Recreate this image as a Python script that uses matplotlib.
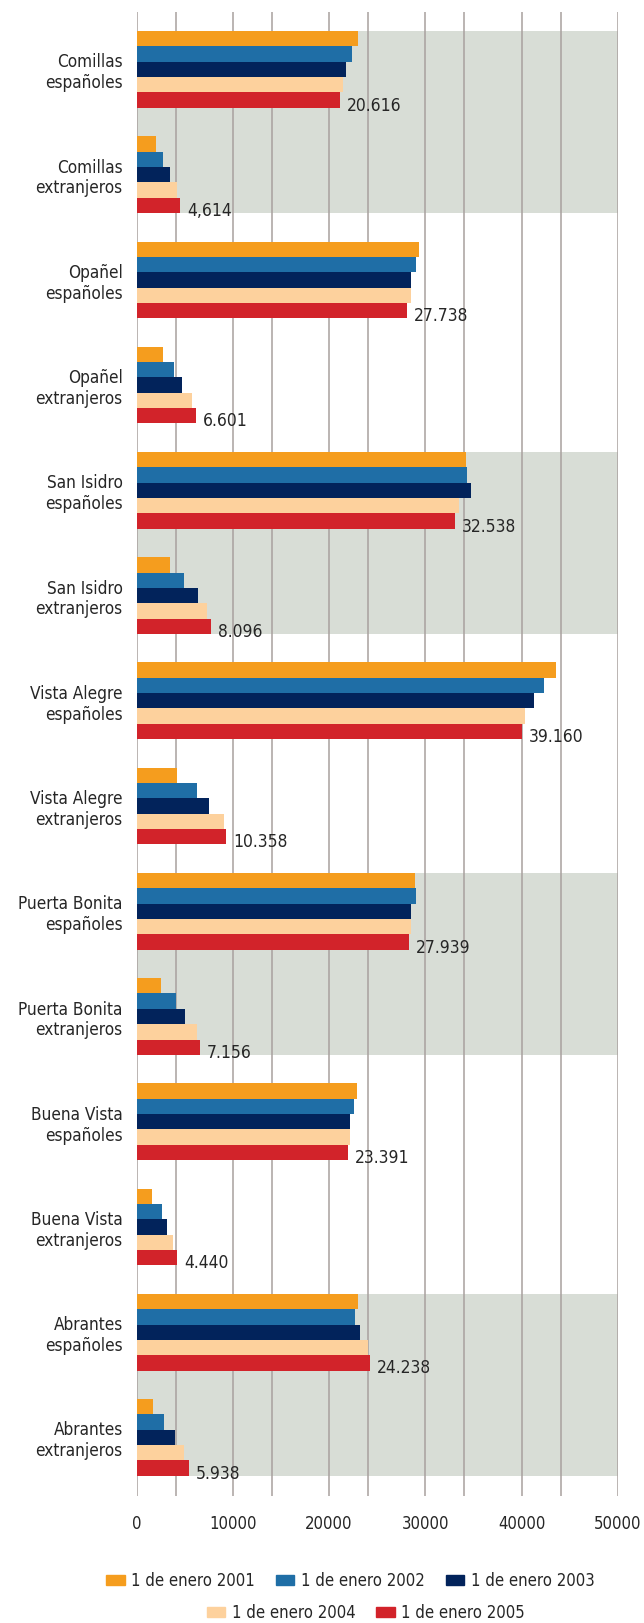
import numpy as np
import matplotlib
matplotlib.use("Agg")
import matplotlib.pyplot as plt
from matplotlib.patches import Patch

# data
categories = ["Comillas\nespañoles", "Comillas\nextranjeros",
              "Opañel\nespañoles", "Opañel\nextranjeros",
              "San Isidro\nespañoles", "San Isidro\nextranjeros",
              "Vista Alegre\nespañoles", "Vista Alegre\nextranjeros",
              "Puerta Bonita\nespañoles", "Puerta Bonita\nextranjeros",
              "Buena Vista\nespañoles", "Buena Vista\nextranjeros",
              "Abrantes\nespañoles", "Abrantes\nextranjeros"]
series = ["1 de enero 2001", "1 de enero 2002", "1 de enero 2003",
          "1 de enero 2004", "1 de enero 2005"]
y2001 = [23040, 2050, 29350, 2770, 34250, 3500, 43590, 4220, 28920, 2560, 22900, 1620, 23040, 1750]
y2002 = [22400, 2770, 29050, 3930, 34340, 4950, 42360, 6310, 29050, 4050, 22610, 2650, 22700, 2860]
y2003 = [21750, 3500, 28540, 4740, 34760, 6400, 41290, 7550, 28540, 5030, 22180, 3200, 23250, 4010]
y2004 = [21450, 4180, 28540, 5760, 33490, 7300, 40350, 9090, 28540, 6310, 22180, 3800, 24060, 4900]
y2005 = [21160, 4520, 28110, 6190, 33100, 7760, 40050, 9300, 28320, 6610, 21970, 4220, 24270, 5460]
value_labels = ["20.616", "4,614", "27.738", "6.601", "32.538", "8.096", "39.160",
                "10.358", "27.939", "7.156", "23.391", "4.440", "24.238", "5.938"]
shaded_pairs = [0, 4, 8, 12]   # first category index of each grey band

colors = ["#f59d1e", "#1f6ea6", "#02235b", "#fdd19d", "#d2232a"]
plt.rcParams["font.family"] = ["DejaVu Sans"]
plt.rcParams["font.stretch"] = "condensed"
txt = "#262626"

#%% plot
fig = plt.figure(figsize=(6.44, 16.23), dpi=100)
ax = fig.add_axes([0.212, 0.0783, 0.7476, 0.9145])

ypos = np.arange(len(categories))
h = 0.1458
for i, s in enumerate([y2001, y2002, y2003, y2004, y2005]):
    ax.barh(ypos + (i - 2) * h, s, height=h, color=colors[i], zorder=3)

for k in shaded_pairs:
    ax.axhspan(k - 2.5 * h, k + 1 + 2.5 * h, xmin=0, xmax=1,
               color="#d8ddd6", lw=0, zorder=0)

grid_x = [0, 4050, 10000, 14050, 20000, 24050, 30000, 34050, 40000, 44050, 50000]
for gx in grid_x:
    ax.axvline(gx, color="#a8a09e", lw=1.1, zorder=1)

for yi, v, lab in zip(ypos, y2005, value_labels):
    ax.annotate(lab, (v, yi + 2 * h), xytext=(5, -4), textcoords="offset points",
                ha="left", va="center", fontsize=12.5, color=txt, zorder=4)

ax.set_xlim(0, 50000)
ax.set_ylim(13.556, -0.549)
ax.set_xticks([0, 10000, 20000, 30000, 40000, 50000])
ax.set_xticklabels(["0", "10000", "20000", "30000", "40000", "50000"])
ax.set_yticks(ypos)
ax.set_yticklabels(categories, fontsize=12.3, color=txt, linespacing=1.2)
ax.tick_params(axis="x", length=0, pad=14, labelsize=12, labelcolor=txt)
ax.tick_params(axis="y", length=0, pad=10)
for sp in ax.spines.values():
    sp.set_visible(False)

handles = [Patch(color=c, label=s) for c, s in zip(colors, series)]
kw = dict(frameon=False, fontsize=12, handlelength=1.1, handleheight=0.6,
          handletextpad=0.4, columnspacing=1.26, borderpad=0, labelcolor=txt)
fig.legend(handles=handles[:3], ncol=3, loc="center", bbox_to_anchor=(0.544, 1 - 1581 / 1623), **kw)
fig.legend(handles=handles[3:], ncol=2, loc="center", bbox_to_anchor=(0.568, 1 - 1613 / 1623), **kw)

plt.savefig("out.png", dpi=100)
